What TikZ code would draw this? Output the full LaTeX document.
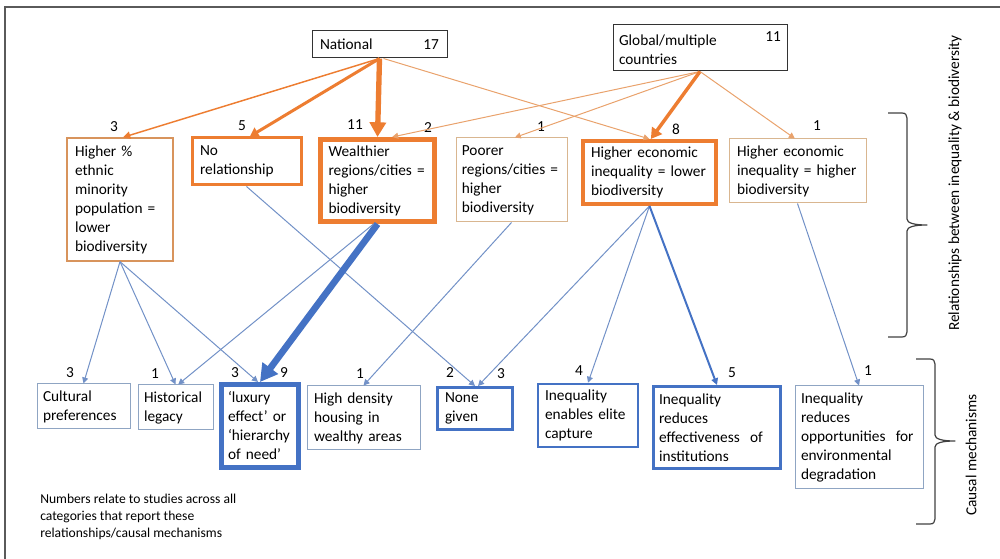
\documentclass[tikz,border=0pt]{standalone}
\usepackage{fontspec}
\setmainfont{Carlito}
\usetikzlibrary{arrows.meta}
\definecolor{org}{HTML}{ED7D31}
\definecolor{orgthin}{HTML}{E9A26C}
\definecolor{orgbox}{HTML}{D8945C}
\definecolor{tanbox}{HTML}{D9B690}
\definecolor{blu}{HTML}{4472C4}
\definecolor{bluthin}{HTML}{7291C7}
\definecolor{blubox}{HTML}{8FA5C3}
\definecolor{framec}{HTML}{5A5A5A}
\definecolor{bracec}{HTML}{404040}
\begin{document}
\begin{tikzpicture}[x=0.75pt,y=-0.75pt,
  every node/.style={font=\fontsize{11.5}{14.25}\selectfont, text=black},
  bx/.style={draw, rectangle, align=left, inner sep=0pt},
  num/.style={inner sep=0pt},
  othin/.style={draw=orgthin, line width=0.75pt, -{Triangle[length=4.5pt,width=4.5pt]}},
  bthin/.style={draw=bluthin, line width=0.75pt, -{Triangle[length=4.5pt,width=4.5pt]}},
  brc/.style={draw=bracec, line width=0.9pt, line join=round}
]
\useasboundingbox (0,0) rectangle (1000,559);
\draw[framec, line width=1.5pt] (5,559) -- (5,7) -- (1000,7);

% top nodes
\node[bx, draw=black!80, line width=0.75pt, minimum width=101.25pt, minimum height=20.25pt, text width=89.25pt] (nat) at (379.5,44.5) {National\hfill 17};
\node[bx, draw=black!80, line width=0.75pt, minimum width=130.5pt, minimum height=34.5pt, text width=121.5pt] (glob) at (700,48) {Global/multiple\hfill\raisebox{3pt}{11}\\countries};

% relationship row
\node[bx, draw=orgbox, line width=1pt, minimum width=79.5pt, minimum height=92.25pt, text width=67.5pt] (eth) at (120,199.5) {Higher \%\\ethnic\\minority\\population =\\lower\\biodiversity};
\node[bx, draw=org, line width=2.25pt, minimum width=81.75pt, minimum height=35.25pt, text width=69.75pt] (norel) at (246.5,161.5) {No\\relationship};
\node[bx, draw=org, line width=3.75pt, minimum width=85.5pt, minimum height=61.5pt, text width=73.5pt] (wealth) at (377.5,180.5) {Wealthier\\regions/cities =\\higher\\biodiversity};
\node[bx, draw=tanbox, line width=0.75pt, minimum width=83.25pt, minimum height=63pt, text width=74.5pt] (poor) at (511.5,180) {Poorer\\regions/cities =\\higher\\biodiversity};
\node[bx, draw=org, line width=3pt, minimum width=99.75pt, minimum height=47.25pt, text width=87.75pt] (hlow) at (649.5,172.5) {Higher economic\\inequality = lower\\biodiversity};
\node[bx, draw=tanbox, line width=0.75pt, minimum width=102.75pt, minimum height=48pt, text width=90.75pt] (hhigh) at (797.5,171) {Higher economic\\inequality = higher\\biodiversity};

% mechanism row
\node[bx, draw=blubox, line width=0.75pt, minimum width=69.75pt, minimum height=33.75pt, text width=60.75pt] (cult) at (83.5,406.5) {Cultural\\preferences};
\node[bx, draw=blubox, line width=0.75pt, minimum width=56.25pt, minimum height=33.75pt, text width=47.25pt] (hist) at (175.5,407.5) {Historical\\legacy};
\node[bx, draw=blu, line width=3.75pt, minimum width=57.75pt, minimum height=62.25pt, text width=48pt] (lux) at (260,426) {‘luxury\\effect’ or\\‘hierarchy\\of need’};
\node[bx, draw=blubox, line width=0.75pt, minimum width=84.75pt, minimum height=48pt, text width=74.25pt] (dens) at (363.5,418) {High density\\housing in\\wealthy areas};
\node[bx, draw=blu, line width=2.25pt, minimum width=56.25pt, minimum height=31.5pt, text width=45pt] (none) at (475,408.5) {None\\given};
\node[bx, draw=blu, line width=1.9pt, minimum width=75pt, minimum height=47.25pt, text width=64.5pt] (elite) at (588,415.5) {Inequality\\enables elite\\capture};
\node[bx, draw=blu, line width=2.25pt, minimum width=95.25pt, minimum height=61.5pt, text width=87pt] (inst) at (717,427.5) {Inequality\\reduces\\effectiveness\ \ of\\institutions};
\node[bx, draw=blubox, line width=0.75pt, minimum width=96pt, minimum height=77.25pt, text width=87pt] (opp) at (859,437.5) {Inequality\\reduces\\opportunities\ \ for\\environmental\\degradation};

% numbers, top row
\node[num] (t1) at (114,127) {3};
\node[num] (t2) at (242,126) {5};
\node[num] (t3) at (355,125) {11};
\node[num] (t4) at (428,128) {2};
\node[num] (t5) at (541,127) {1};
\node[num] (t6) at (676,129) {8};
\node[num] (t7) at (817,126) {1};
% numbers, bottom row
\node[num] (b1) at (70,373) {3};
\node[num] (b2) at (155,374) {1};
\node[num] (b3) at (235,373) {3};
\node[num] (b4) at (284,373) {9};
\node[num] (b5) at (360,374) {1};
\node[num] (b6) at (450,373) {2};
\node[num] (b7) at (501,374) {3};
\node[num] (b8) at (579,371) {4};
\node[num] (b9) at (732,373) {5};
\node[num] (b10) at (868,371) {1};

% orange connectors
\draw[draw=org, line width=1.1pt, -{Triangle[length=5.5pt,width=5.5pt]}] (nat.south) -- ([xshift=2.25pt]eth.north);
\draw[draw=org, line width=2.25pt, -{Triangle[length=6.5pt,width=7.5pt]}] (nat.south) -- ([xshift=2.5pt]norel.north);
\draw[draw=org, line width=4pt, -{Triangle[length=11pt,width=12pt]}] (nat.south) -- (wealth.north);
\draw[othin] ([xshift=3pt]nat.south) -- (hlow.north);
\draw[othin] (glob.south) -- ([xshift=11pt]wealth.north);
\draw[othin] (glob.south) -- ([xshift=2.5pt]poor.north);
\draw[draw=org, line width=2.6pt, -{Triangle[length=8pt,width=9pt]}] (glob.south) -- ([xshift=1pt]hlow.north);
\draw[othin] (glob.south) -- ([xshift=-2pt]hhigh.north);

% blue connectors
\draw[bthin] (eth.south) -- (cult.north);
\draw[bthin] (eth.south) -- (hist.north);
\draw[bthin] (eth.south) -- ([xshift=-1.5pt]lux.north);
\draw[bthin] (norel.south) -- (none.north);
\draw[draw=blu, line width=5pt, -{Triangle[length=13pt,width=14pt]}] (wealth.south) -- (lux.north);
\draw[bthin] ([xshift=-3pt]wealth.south) -- ([xshift=2pt]hist.north);
\draw[bthin] (poor.south) -- (dens.north);
\draw[bthin] (hlow.south) -- ([xshift=2.25pt]none.north);
\draw[bthin] (hlow.south) -- (elite.north);
\draw[draw=blu, line width=1.5pt, -{Triangle[length=5pt,width=5pt]}] (hlow.south) -- (inst.north);
\draw[bthin] (hhigh.south) -- (opp.north);

% braces
\draw[brc] (888,113) -- (902,113) .. controls (905.5,113) and (907,115) .. (907,118)
  -- (907,219) .. controls (907,223) and (914,225) .. (927,225)
  .. controls (914,225) and (907,227) .. (907,231)
  -- (907,332) .. controls (907,335) and (905.5,337) .. (902,337) -- (888,337);
\draw[brc] (916,359) -- (930,359) .. controls (933.5,359) and (935,361) .. (935,364)
  -- (935,435) .. controls (935,439) and (942,441) .. (955,441)
  .. controls (942,441) and (935,443) .. (935,447)
  -- (935,519) .. controls (935,522) and (933.5,524) .. (930,524) -- (916,524);
\node[rotate=90, inner sep=0pt] (lab1) at (955,183) {Relationships between inequality \& biodiversity};
\node[rotate=90, inner sep=0pt] (lab2) at (971,455) {Causal mechanisms};

% note
\node[anchor=north west, align=left, inner sep=0pt, font=\fontsize{10.2}{12.75}\selectfont] (note) at (40,494) {Numbers relate to studies across all\\categories that report these\\relationships/causal mechanisms};
\end{tikzpicture}
\end{document}
